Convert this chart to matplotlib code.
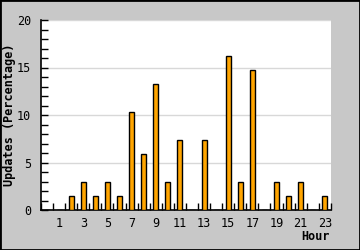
import matplotlib
matplotlib.use("Agg")
import matplotlib.pyplot as plt
from matplotlib.ticker import MultipleLocator, FixedLocator
from matplotlib.patches import Rectangle

# hourly share of updates (%)
hours = list(range(24))
updates = [0, 0, 1.47, 2.94, 1.47, 2.94, 1.47, 10.29, 5.88, 13.24, 2.94, 7.35,
           0, 7.35, 0, 16.18, 2.94, 14.71, 0, 2.94, 1.47, 2.94, 0, 1.47]
tick_hours = [1, 3, 5, 7, 9, 11, 13, 15, 17, 19, 21, 23]


def main():
    mono = ["DejaVu Sans Mono"]
    fig = plt.figure(figsize=(3.6, 2.5), dpi=100, facecolor="#c8c8c8")
    ax = fig.add_axes([0.114, 0.16, 0.805, 0.76])
    ax.set_facecolor("white")

    ax.bar(hours, updates, width=0.42, color="#ffa500", edgecolor="black",
           linewidth=1.0, zorder=3)

    ax.set_xlim(-0.5, 23.5)
    ax.set_ylim(0, 20)

    ax.yaxis.set_major_locator(MultipleLocator(5))
    ax.yaxis.set_minor_locator(MultipleLocator(1))
    ax.grid(axis="y", which="major", color="#d8d8d8", linewidth=1.0, zorder=0)

    ax.xaxis.set_major_locator(FixedLocator(tick_hours))
    ax.xaxis.set_minor_locator(FixedLocator([h + 0.5 for h in range(-1, 24)]))
    ax.tick_params(axis="x", which="major", length=0, pad=5, labelsize=8.5)
    ax.tick_params(axis="x", which="minor", direction="in", length=5,
                   width=1, color="black")
    ax.tick_params(axis="y", which="both", direction="in", length=5,
                   width=1, color="black", labelsize=8.5, pad=7)
    for lab in ax.get_xticklabels() + ax.get_yticklabels():
        lab.set_family(mono)

    for side in ["top", "right"]:
        ax.spines[side].set_visible(False)
    ax.spines["left"].set_linewidth(1.2)
    ax.spines["bottom"].set_linewidth(1.2)

    ax.set_ylabel("Updates (Percentage)", family=mono, fontweight="bold",
                  fontsize=8.5)
    ax.yaxis.set_label_coords(-0.085, 0.5)
    fig.text(0.915, 0.055, "Hour", family=mono, fontweight="bold",
             fontsize=8.5, ha="right", va="center")

    fig.patches.append(Rectangle((0, 0), 1, 1, transform=fig.transFigure,
                                 fill=False, edgecolor="black", linewidth=2))

    fig.savefig("out.png", dpi=100, facecolor=fig.get_facecolor())


if __name__ == "__main__":
    main()
